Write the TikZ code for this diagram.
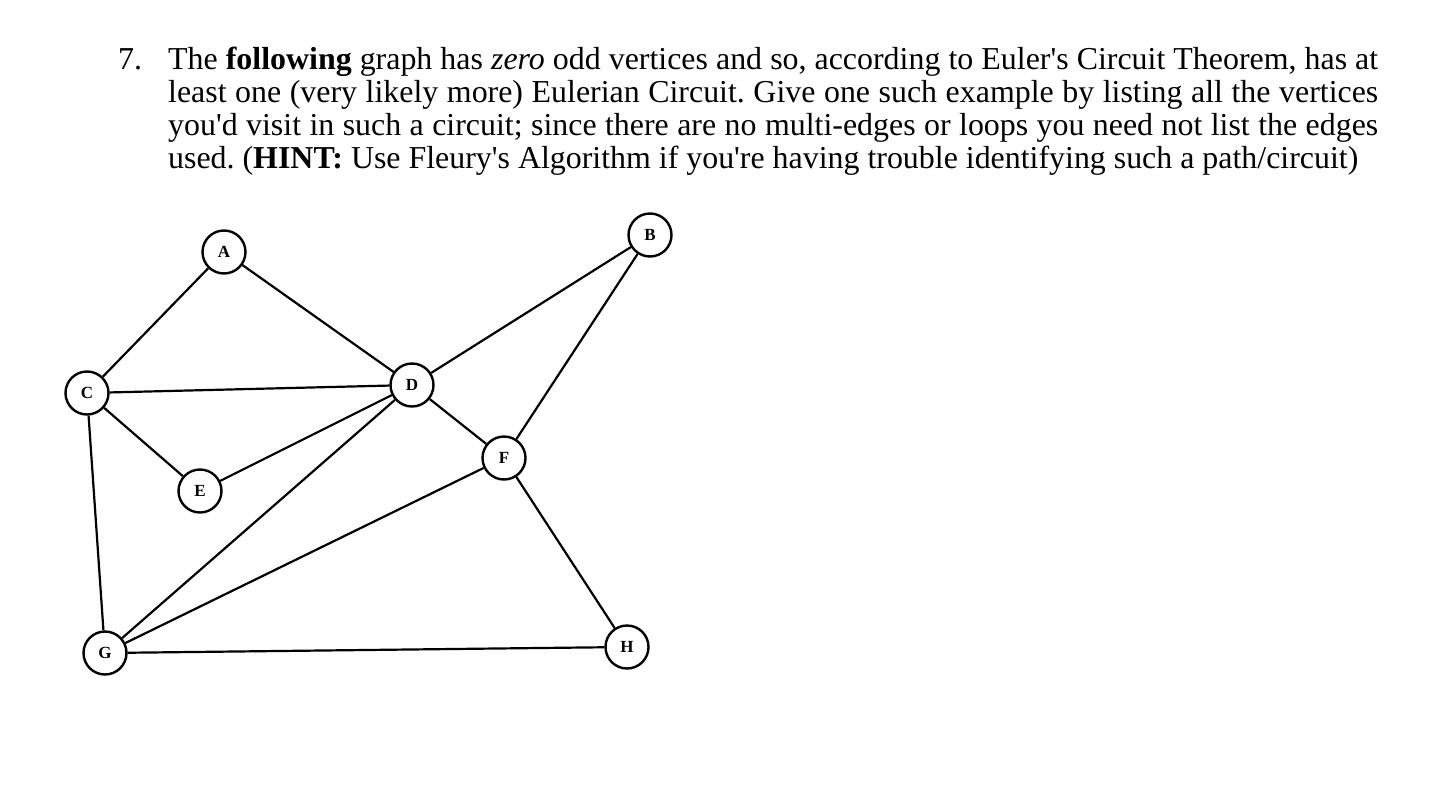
\documentclass[tikz,border=0pt]{standalone}
\usepackage{fontspec}
\setmainfont{Liberation Serif}[Ligatures=TeXOff]
\begin{document}
\frenchspacing
\begin{tikzpicture}[x=1pt,y=-1pt,
  vtx/.style={circle,draw,line width=2.4pt,minimum size=43pt,inner sep=0pt,fill=white,font=\fontsize{17}{17}\selectfont\bfseries},
  edge/.style={line width=2.2pt}]
\useasboundingbox[fill=white] (0,0) rectangle (1434,784);
\node[anchor=base west,inner sep=0pt,font=\fontsize{31.9}{32.8}\selectfont] (num) at (118,70) {7.};
\node[anchor=base west,inner sep=0pt,text width=1210pt,align=justify,font=\fontsize{31.9}{32.8}\selectfont\frenchspacing] (txt) at (168,70)
 {The \textbf{following} graph has \textit{zero} odd vertices and so, according to Euler's Circuit Theorem, has at\linebreak
 least one (very likely more) Eulerian Circuit. Give one such example by listing all the vertices\linebreak
 you'd visit in such a circuit; since there are no multi-edges or loops you need not list the edges\linebreak
 used. (\textbf{HINT:} Use Fleury's Algorithm if you're having trouble identifying such a path/circuit)};
\node[vtx] (A) at (224,252) {A};
\node[vtx] (B) at (650,235) {B};
\node[vtx] (C) at (87,393) {C};
\node[vtx] (D) at (412,385) {D};
\node[vtx] (E) at (200,491) {E};
\node[vtx] (F) at (504,458) {F};
\node[vtx] (G) at (105,653) {G};
\node[vtx] (H) at (627,647) {H};
\draw[edge] (A) -- (C);
\draw[edge] (A) -- (D);
\draw[edge] (C) -- (D);
\draw[edge] (C) -- (E);
\draw[edge] (E) -- (D);
\draw[edge] (D) -- (B);
\draw[edge] (D) -- (F);
\draw[edge] (B) -- (F);
\draw[edge] (C) -- (G);
\draw[edge] (G) -- (D);
\draw[edge] (G) -- (F);
\draw[edge] (F) -- (H);
\draw[edge] (G) -- (H);
\end{tikzpicture}
\end{document}
